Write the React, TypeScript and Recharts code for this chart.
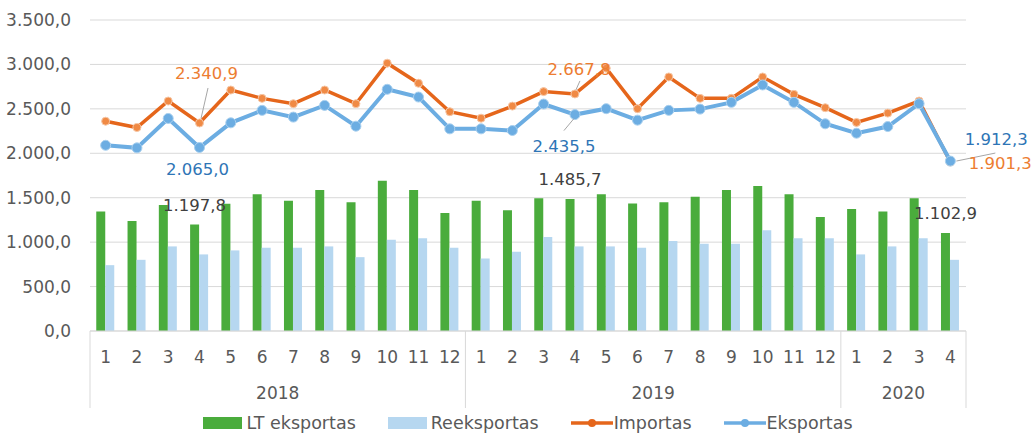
import React from 'react'
import { ComposedChart, Bar, Line, XAxis, YAxis, CartesianGrid, Legend, LabelList } from 'recharts'

const months = [1, 2, 3, 4, 5, 6, 7, 8, 9, 10, 11, 12, 1, 2, 3, 4, 5, 6, 7, 8, 9, 10, 11, 12, 1, 2, 3, 4]
const years = [
  '2018', '2018', '2018', '2018', '2018', '2018', '2018', '2018', '2018', '2018', '2018', '2018',
  '2019', '2019', '2019', '2019', '2019', '2019', '2019', '2019', '2019', '2019', '2019', '2019',
  '2020', '2020', '2020', '2020',
]
const ltExport = [1344, 1238, 1419, 1197.8, 1431, 1540, 1465, 1586, 1450, 1691, 1586, 1329, 1465, 1359, 1495, 1485.7, 1540, 1434, 1450, 1510, 1586, 1631, 1540, 1284, 1374, 1344, 1495, 1102.9]
const reExport = [741, 801, 952, 862, 907, 937, 937, 952, 831, 1027, 1043, 937, 816, 891, 1057, 952, 952, 937, 1012, 982, 982, 1133, 1043, 1043, 862, 952, 1043, 801]
const importTotal = [2361, 2290, 2588, 2340.9, 2712, 2618, 2558, 2712, 2558, 3014, 2788, 2468, 2395, 2531, 2694, 2667.8, 2958, 2502, 2859, 2618, 2618, 2859, 2663, 2513, 2347, 2452, 2588, 1901.3]
const exportTotal = [2090, 2061, 2392, 2065.0, 2343, 2483, 2407, 2539, 2305, 2720, 2633, 2275, 2275, 2256, 2554, 2435.5, 2502, 2373, 2483, 2497, 2573, 2769, 2573, 2332, 2226, 2301, 2558, 1912.3]
const yTicks = [0, 500, 1000, 1500, 2000, 2500, 3000, 3500]
const labeledIdx = [3, 15, 27]

const data = months.map((m, i) => ({
  month: m,
  year: years[i],
  lt: ltExport[i],
  re: reExport[i],
  imp: importTotal[i],
  exp: exportTotal[i],
}))

const W = 1032
const H = 434
const MARGIN = { top: 20, right: 66, bottom: 23, left: 0 }
const Y_W = 90
const BW = (W - MARGIN.left - MARGIN.right - Y_W) / months.length

const GREEN = '#4AAC3C'
const LIGHT = '#B6D7F0'
const ORANGE = '#E5661B'
const ORANGE_DOT = '#F08A45'
const BLUE = '#6CADE2'
const GRID = '#D9D9D9'
const TXT = '#595959'
const FONT = 'DejaVu Sans'

const fmt = (v: number) => {
  const [int, dec] = v.toFixed(1).split('.')
  return int.replace(/\B(?=(\d{3})+(?!\d))/g, '.') + ',' + dec
}

// label placement relative to the point: [dx, dy, leader line or null]
const impPlace: Record<number, [number, number, number[] | null]> = {
  3: [7, -49, [8.5, -35, 1.5, -4.5]],
  15: [4, -24, [5, -13, 1, -4]],
  27: [50, 1, [6, -1, 45, -9]],
}
const expPlace: Record<number, [number, number, number[] | null]> = {
  3: [-2, 22, null],
  15: [-11, 32, [-11, 16, -1, 4]],
  27: [46, -22, null],
}

const lineLabel = (place: typeof impPlace, color: string) => (props: any) => {
  const { x, y, value, index } = props
  const p = place[index]
  if (!p) return null
  const [dx, dy, lead] = p
  return (
    <g>
      {lead && (
        <line x1={x + lead[0]} y1={y + lead[1]} x2={x + lead[2]} y2={y + lead[3]} stroke="#A6A6A6" strokeWidth={1} />
      )}
      <text x={x + dx} y={y + dy} fill={color} fontSize={16.5} fontFamily={FONT} textAnchor="middle" dominantBaseline="central">
        {fmt(value)}
      </text>
    </g>
  )
}

const barLabel = (props: any) => {
  const { x, y, width, value, index } = props
  if (!labeledIdx.includes(index)) return null
  return (
    <text x={x + width / 2} y={y - 19} fill="#404040" fontSize={16.5} fontFamily={FONT} textAnchor="middle" dominantBaseline="central">
      {fmt(value)}
    </text>
  )
}

const MonthTick = (props: any) => {
  const { x, y, payload, index } = props
  const yr = years[index]
  const first = index === 0 || years[index - 1] !== yr
  const last = index === months.length - 1
  const count = years.filter((v) => v === yr).length
  return (
    <g>
      <text x={x} y={y + 26} fill={TXT} fontSize={17} fontFamily={FONT} textAnchor="middle" dominantBaseline="central">
        {payload.value}
      </text>
      {first && (
        <>
          <line x1={x - BW / 2} y1={y} x2={x - BW / 2} y2={y + 77} stroke={GRID} />
          <text x={x - BW / 2 + (count * BW) / 2} y={y + 62} fill={TXT} fontSize={17} fontFamily={FONT} textAnchor="middle" dominantBaseline="central">
            {yr}
          </text>
        </>
      )}
      {last && <line x1={x + BW / 2} y1={y} x2={x + BW / 2} y2={y + 77} stroke={GRID} />}
    </g>
  )
}

const legendItems = [
  { name: 'LT eksportas', color: GREEN, kind: 'rect' },
  { name: 'Reeksportas', color: LIGHT, kind: 'rect' },
  { name: 'Importas', color: ORANGE, kind: 'line' },
  { name: 'Eksportas', color: BLUE, kind: 'line' },
]

const LegendContent = () => (
  <div style={{ display: 'flex', justifyContent: 'center', alignItems: 'center', fontFamily: FONT, fontSize: 17.5, color: TXT, lineHeight: '20px' }}>
    {legendItems.map((it, i) => (
      <div key={it.name} style={{ display: 'flex', alignItems: 'center', marginLeft: i === 0 ? 0 : 32 }}>
        {it.kind === 'rect' ? (
          <div style={{ width: 39, height: 12, background: it.color, marginRight: 4 }} />
        ) : (
          <svg width={42} height={12} style={{ marginRight: 1 }}>
            <line x1={0} y1={6} x2={42} y2={6} stroke={it.color} strokeWidth={3.5} />
            <circle cx={21} cy={6} r={4} fill={it.color} />
          </svg>
        )}
        <span>{it.name}</span>
      </div>
    ))}
  </div>
)

export default function App() {
  return (
    <div style={{ position: 'absolute', left: 0, top: 0, width: W, height: H, overflow: 'hidden', background: '#fff' }}>
      <ComposedChart width={W} height={H} data={data} margin={MARGIN} barCategoryGap="20%" barGap={0} style={{ fontFamily: FONT }}>
        <CartesianGrid vertical={false} stroke={GRID} />
        <XAxis
          dataKey="month"
          interval={0}
          tickLine={false}
          tickSize={0}
          tickMargin={0}
          axisLine={{ stroke: GRID }}
          height={80}
          tick={<MonthTick />}
        />
        <YAxis
          domain={[0, 3500]}
          ticks={yTicks}
          tickFormatter={fmt}
          axisLine={false}
          tickLine={false}
          tickSize={6}
          tickMargin={13}
          width={Y_W}
          tick={{ fill: TXT, fontSize: 17, fontFamily: FONT }}
        />
        <Bar dataKey="lt" name="LT eksportas" fill={GREEN} isAnimationActive={false}>
          <LabelList dataKey="lt" content={barLabel} />
        </Bar>
        <Bar dataKey="re" name="Reeksportas" fill={LIGHT} isAnimationActive={false} />
        <Line
          dataKey="imp"
          name="Importas"
          stroke={ORANGE}
          strokeWidth={3.5}
          dot={{ r: 4, fill: ORANGE_DOT, stroke: '#F6C7A6', strokeWidth: 1 }}
          isAnimationActive={false}
        >
          <LabelList dataKey="imp" content={lineLabel(impPlace, '#ED7D31')} />
        </Line>
        <Line
          dataKey="exp"
          name="Eksportas"
          stroke={BLUE}
          strokeWidth={4}
          dot={{ r: 5, fill: BLUE, stroke: '#A9D0EF', strokeWidth: 1 }}
          isAnimationActive={false}
        >
          <LabelList dataKey="exp" content={lineLabel(expPlace, '#2E75B6')} />
        </Line>
        <Legend
          verticalAlign="middle"
          align="center"
          layout="horizontal"
          content={<LegendContent />}
          wrapperStyle={{ top: 413, left: Y_W, width: W - Y_W - MARGIN.right }}
        />
      </ComposedChart>
    </div>
  )
}
